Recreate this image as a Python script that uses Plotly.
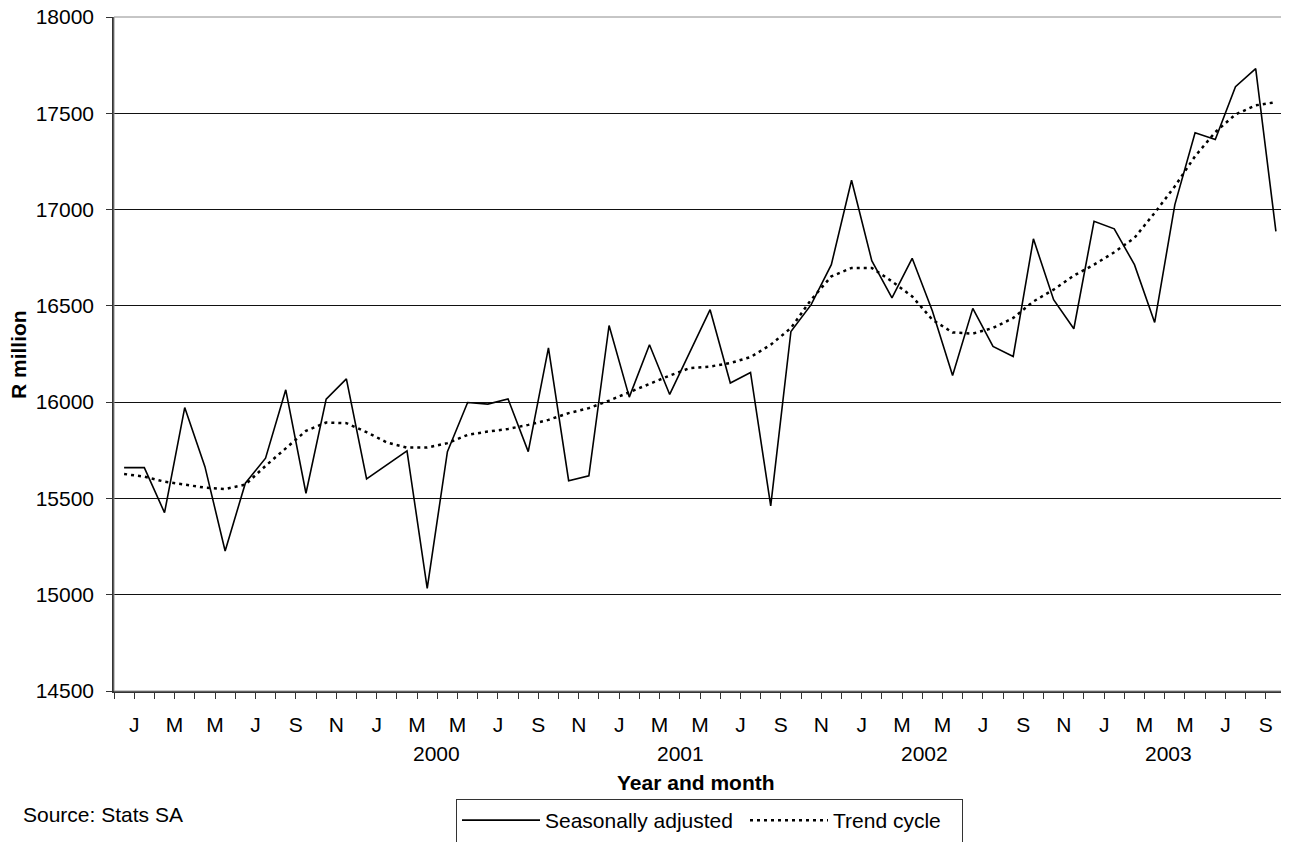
import plotly.graph_objects as go

# ---- data ----
seasonally_adjusted = [
    15660, 15660, 15426, 15972, 15665, 15227, 15579, 15709, 16064, 15527,
    16016, 16121, 15601, 15673, 15747, 15033, 15743, 15998, 15990, 16017,
    15743, 16282, 15592, 15617, 16398, 16026, 16298, 16040, 16262, 16480,
    16099, 16154, 15461, 16367, 16506, 16714, 17152, 16735, 16541, 16747,
    16473, 16138, 16487, 16289, 16237, 16848, 16532, 16381, 16939, 16900,
    16714, 16414, 17026, 17399, 17364, 17638, 17732, 16887,
]
trend_cycle = [
    15627, 15613, 15587, 15573, 15556, 15549, 15572, 15669, 15761, 15851,
    15894, 15891, 15844, 15791, 15764, 15764, 15787, 15830, 15847, 15861,
    15882, 15908, 15943, 15969, 16008, 16052, 16095, 16138, 16177, 16185,
    16203, 16234, 16298, 16385, 16532, 16653, 16697, 16697, 16627, 16549,
    16428, 16362, 16356, 16385, 16437, 16523, 16584, 16657, 16714, 16778,
    16853, 16983, 17121, 17277, 17402, 17494, 17541, 17558,
]
month_labels = ["J", "M", "M", "J", "S", "N"] * 4 + ["J", "M", "M", "J", "S"]
year_labels = ["2000", "2001", "2002", "2003"]

n = len(seasonally_adjusted)
x = list(range(n))

# tick marks on every category boundary, labels on every second boundary
tickvals = [i - 0.5 for i in range(n + 1)]
ticktext = []
li = 0
for i in range(n + 1):
    if i % 2 == 1 and li < len(month_labels):
        ticktext.append(month_labels[li])
        li += 1
    else:
        ticktext.append("")

FONT = "Liberation Sans, Arial, sans-serif"
FS = 21
OFF = 8                      # page body margin
W, H = 1289 - OFF, 842 - OFF
PLOT_L, PLOT_R, PLOT_T, PLOT_B = 114, 1286, 17, 691   # page pixels
ML = PLOT_L - OFF
MR = W - (PLOT_R - OFF)
MT = PLOT_T - OFF
MB = H - (PLOT_B - OFF)
PW = W - ML - MR
PH = H - MT - MB


def px_to_paper_x(px):
    return (px - OFF - ML) / PW


def px_to_paper_y(py):
    return (H - MB - (py - OFF)) / PH


fig = go.Figure()
fig.add_trace(go.Scatter(
    x=x, y=seasonally_adjusted, mode="lines", name="Seasonally adjusted<br> ",
    line=dict(color="black", width=1.6),
    legendwidth=195,
))
fig.add_trace(go.Scatter(
    x=x, y=trend_cycle, mode="lines", name="Trend cycle<br> ",
    line=dict(color="black", width=2.5, dash="3px,4px"),
    legendwidth=124,
))

annotations = []
for i, yl in enumerate(year_labels):
    annotations.append(dict(
        x=15.45 + 12.08 * i, xref="x", y=px_to_paper_y(753), yref="paper",
        text=yl, showarrow=False, xanchor="center", yanchor="middle",
        font=dict(family=FONT, size=FS, color="black"),
    ))
annotations.append(dict(
    x=px_to_paper_x(696), xref="paper", y=px_to_paper_y(782), yref="paper",
    text="<b>Year and month</b>", showarrow=False, xanchor="center", yanchor="middle",
    font=dict(family=FONT, size=FS, color="black"),
))
annotations.append(dict(
    x=px_to_paper_x(18), xref="paper", y=px_to_paper_y(355), yref="paper",
    text="<b>R million</b>", showarrow=False, xanchor="center", yanchor="middle",
    textangle=-90, font=dict(family=FONT, size=FS, color="black"),
))
annotations.append(dict(
    x=px_to_paper_x(21), xref="paper", y=px_to_paper_y(815), yref="paper",
    text="Source: Stats SA", showarrow=False, xanchor="left", yanchor="middle",
    font=dict(family=FONT, size=FS, color="black"),
))

fig.update_layout(
    width=W, height=H,
    margin=dict(l=ML, r=MR, t=MT, b=MB, pad=0, autoexpand=False),
    paper_bgcolor="white", plot_bgcolor="white",
    font=dict(family=FONT, size=FS, color="black"),
    showlegend=True,
    legend=dict(
        orientation="h", x=px_to_paper_x(456), xanchor="left",
        y=px_to_paper_y(799), yanchor="top",
        bordercolor="#333333", borderwidth=1, bgcolor="white",
        font=dict(family=FONT, size=FS, color="black"),
        itemwidth=78, valign="top", traceorder="normal",
    ),
    annotations=annotations,
    shapes=[dict(
        type="rect", xref="paper", yref="paper", x0=0, x1=1, y0=0, y1=1,
        line=dict(color="#8c8c8c", width=1), layer="above",
    )],
)
fig.update_xaxes(
    range=[-0.5, n - 0.5], tickmode="array", tickvals=tickvals, ticktext=ticktext,
    ticks="outside", ticklen=6, tickcolor="#333333", tickwidth=1,
    showgrid=False, zeroline=False, showline=True, linecolor="#333333", linewidth=1.5,
    tickfont=dict(family=FONT, size=FS, color="black"), ticklabelstandoff=8,
    ticklabeloverflow="allow", fixedrange=True,
)
fig.update_yaxes(
    range=[14500, 18000], tickmode="linear", tick0=14500, dtick=500, tickformat="d",
    ticks="outside", ticklen=6, tickcolor="#333333", tickwidth=1,
    showgrid=True, gridcolor="#111111", gridwidth=1, zeroline=False,
    showline=True, linecolor="#333333", linewidth=1.5,
    tickfont=dict(family=FONT, size=FS, color="black"), ticklabelstandoff=8,
    ticklabeloverflow="allow", fixedrange=True,
)

fig.write_html("out.html")
